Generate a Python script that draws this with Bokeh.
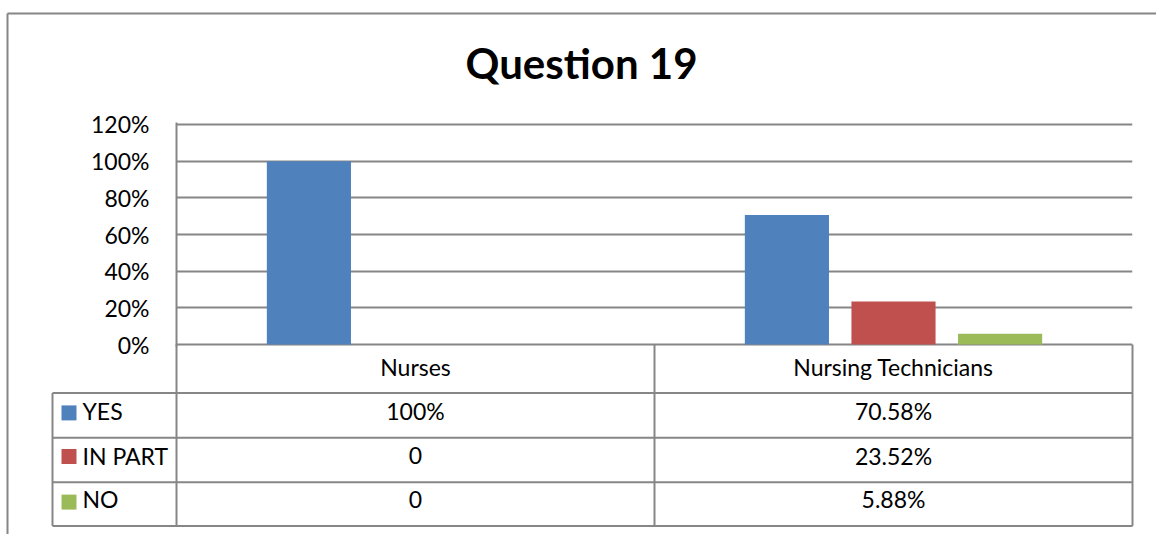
from bokeh.plotting import figure
from bokeh.models import Range1d, FixedTicker, PrintfTickFormatter, ColumnDataSource
from bokeh.transform import dodge
from bokeh.embed import file_html
from bokeh.resources import INLINE
from bokeh.core.properties import value

# ---------------- data ----------------
title_text = "Question 19"
categories = ["Nurses", "Nursing Technicians"]
series = ["YES", "IN PART", "NO"]
yes_values = [100, 70.58]
in_part_values = [0, 23.52]
no_values = [0, 5.88]
colors = ["#4F81BD", "#C0504D", "#9BBB59"]
y_ticks = [0, 20, 40, 60, 80, 100, 120]

# ---------------- layout constants ----------------
FONT = "Lato"
GRID = "#868686"
W, H = 1156, 534
FRAME_L, FRAME_R = 176, 1132      # plot area, pixels
Y0_PX, YTOP_PX = 344, 122         # pixel rows of 0% and 120%
PX = (Y0_PX - YTOP_PX) / max(y_ticks)   # pixels per percent
CAT_PX = (FRAME_R - FRAME_L) / len(categories)
TXT = "23px"

def X(px):   # pixel column -> category units
    return (px - FRAME_L) / CAT_PX

def Y(py):   # pixel row -> percent units
    return (Y0_PX - py) / PX

def fmt(v):
    if v == 0:
        return "0"
    if float(v).is_integer():
        return "%d%%" % v
    return "%.2f%%" % v

p = figure(
    x_range=Range1d(0, len(categories)),
    y_range=Range1d(-2 / PX, max(y_ticks) + 2 / PX),
    width=W, height=H,
    output_backend="svg", toolbar_location=None,
    x_axis_location=None,
    min_border_left=FRAME_L, min_border_right=W - FRAME_R,
    min_border_top=YTOP_PX - 2, min_border_bottom=H - (Y0_PX + 2),
)
p.outline_line_color = None
p.xgrid.visible = False
p.ygrid.ticker = FixedTicker(ticks=y_ticks)
p.ygrid.grid_line_color = GRID
p.ygrid.grid_line_width = 2

ax = p.yaxis[0]
ax.ticker = FixedTicker(ticks=y_ticks)
ax.formatter = PrintfTickFormatter(format="%d%%")
ax.axis_line_color = GRID
ax.axis_line_width = 2
ax.major_tick_line_color = None
ax.minor_tick_line_color = None
ax.major_tick_out = 0
ax.major_label_standoff = 27
ax.major_label_text_font = FONT
ax.major_label_text_font_size = TXT
ax.major_label_text_color = "#000000"

p.title.text = title_text
p.title.text_font = FONT
p.title.text_font_style = "bold"
p.title.text_font_size = "42px"
p.title.text_color = "#000000"
p.title.align = "left"
p.title.offset = 289
p.title.standoff = 70

# ---------------- bars ----------------
src = ColumnDataSource(dict(xc=[i + 0.5 for i in range(len(categories))], YES=yes_values,
                            **{"IN PART": in_part_values}, NO=no_values))
offsets = [-0.223, 0.0, 0.223]
for s, c, off in zip(series, colors, offsets):
    p.vbar(x=dodge("xc", off), top=s, width=0.176, source=src, fill_color=c, line_color=None)

# ---------------- data table below the plot area ----------------
LVL = "overlay"
leg_left = X(52)
row_lines_px = [393, 438, 483, 527]      # pixel rows of the table's horizontal rules
text_anchor_px = [411, 456, 500]         # text anchor rows for the value rows
header_anchor_px = 367
key_center_px = [413, 457, 503]
KEY = 15

x0, y0, x1, y1 = [], [], [], []
for i in range(len(categories) + 1):
    x0.append(i); x1.append(i); y0.append(Y(Y0_PX)); y1.append(Y(row_lines_px[-1]))
x0.append(leg_left); x1.append(leg_left); y0.append(Y(row_lines_px[0])); y1.append(Y(row_lines_px[-1]))
for py in row_lines_px:
    x0.append(leg_left); x1.append(len(categories)); y0.append(Y(py)); y1.append(Y(py))
# outer chart border (left and top)
x0 += [X(7), X(7)]; x1 += [X(7), X(W + 5)]
y0 += [Y(10), Y(10)]; y1 += [Y(H + 5), Y(10)]
p.segment(x0=x0, y0=y0, x1=x1, y1=y1, line_color=GRID, line_width=2, level=LVL)

p.text(x=[i + 0.5 for i in range(len(categories))], y=[Y(header_anchor_px)] * len(categories),
       text=categories, text_font=value(FONT), text_font_size=value(TXT), text_color="#000000",
       text_align="center", text_baseline="alphabetic", level=LVL)

all_values = [yes_values, in_part_values, no_values]
for r, (s, c, vals) in enumerate(zip(series, colors, all_values)):
    base = text_anchor_px[r]
    kc = key_center_px[r]
    # legend key: a 15x15 square drawn as a thick butt-capped segment
    p.segment(x0=[X(61)], y0=[Y(kc)], x1=[X(61 + KEY)], y1=[Y(kc)],
              line_color=c, line_width=KEY, line_cap="butt", level=LVL)
    p.text(x=[X(82)], y=[Y(base)], text=[s],
           text_font=value(FONT), text_font_size=value(TXT), text_color="#000000",
           text_align="left", text_baseline="alphabetic", level=LVL)
    p.text(x=[i + 0.5 for i in range(len(categories))], y=[Y(base)] * len(categories),
           text=[fmt(v) for v in vals],
           text_font=value(FONT), text_font_size=value(TXT), text_color="#000000",
           text_align="center", text_baseline="alphabetic", level=LVL)

open("out.html", "w").write(file_html(p, INLINE))
